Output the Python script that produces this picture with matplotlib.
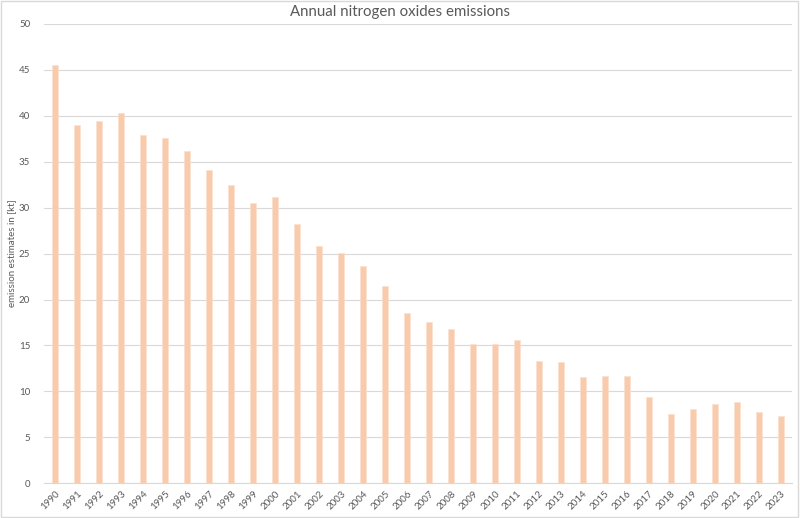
import matplotlib.pyplot as plt
import numpy as np

years = [str(y) for y in range(1990, 2024)]
emissions = [45.5, 39.0, 39.4, 40.3, 37.9, 37.6, 36.2, 34.1, 32.5, 30.5,
             31.2, 28.2, 25.8, 25.1, 23.7, 21.5, 18.55, 17.6, 16.8, 15.2,
             15.15, 15.6, 13.3, 13.2, 11.6, 11.7, 11.7, 9.4, 7.5, 8.1,
             8.6, 8.85, 7.8, 7.3]

plt.rcParams['font.family'] = ['Lato', 'DejaVu Sans']

fig = plt.figure(figsize=(8, 5.18), dpi=100)
ax = fig.add_axes([0.055, 0.067, 0.935, 0.887])

x = np.arange(len(years))
ax.bar(x, emissions, width=0.3, color='#F8CBAD', edgecolor='#FBE0CD', linewidth=0.5, zorder=3)

ax.set_xlim(-0.5, len(years) - 0.5)
ax.set_ylim(0, 50)
ax.set_yticks(range(0, 51, 5))
ax.set_xticks(x)
ax.set_xticklabels(years, rotation=45, ha='right', rotation_mode='anchor')
ax.tick_params(axis='both', length=0, labelsize=7, labelcolor='#595959')
ax.tick_params(axis='y', pad=10)
ax.tick_params(axis='x', pad=4)
ax.grid(axis='y', color='#D9D9D9', linewidth=0.8, zorder=0)
for s in ['top', 'right', 'left']:
    ax.spines[s].set_visible(False)
ax.spines['bottom'].set_color('#D9D9D9')

ax.set_ylabel('emission estimates in [kt]', fontsize=7, color='#595959')
ax.yaxis.set_label_coords(-0.037, 0.5)
fig.text(0.5, 0.977, 'Annual nitrogen oxides emissions', ha='center', va='center',
         fontsize=10.8, color='#595959')

fig.patches.append(plt.Rectangle((0.001, 0.001), 0.997, 0.997, transform=fig.transFigure,
                                 fill=False, edgecolor='#D9D9D9', linewidth=1))

fig.savefig('out.png', dpi=100)
